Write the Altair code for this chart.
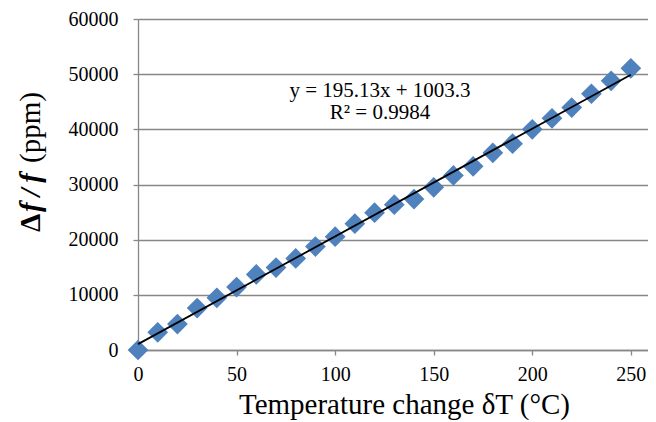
import altair as alt
import pandas as pd

temp_change = [0, 10, 20, 30, 40, 50, 60, 70, 80, 90, 100, 110, 120, 130,
               140, 150, 160, 170, 180, 190, 200, 210, 220, 230, 240, 250]
df_f_ppm = [0, 3200, 4700, 7600, 9450, 11400, 13700, 14950, 16600, 18750,
            20550, 22900, 24900, 26350, 27350, 29500, 31650, 33300, 35750,
            37400, 40000, 42000, 43950, 46450, 48800, 51070]
x_ticks = [0, 50, 100, 150, 200, 250]
y_ticks = [0, 10000, 20000, 30000, 40000, 50000, 60000]
eq_line1 = "y = 195.13x + 1003.3"
eq_line2 = "R\u00b2 = 0.9984"
x_title = "Temperature change \u03b4T (\u00b0C)"
y_title_parts = ["\u0394", "f\u2009/\u2009f", "(ppm)"]

FONT = "Liberation Serif"
GRAY = "#878787"
BLUE = "#4F81BD"

data = pd.DataFrame({"T": temp_change, "D": df_f_ppm})
one = pd.DataFrame({"k": [0]})

xenc = alt.X("T:Q", scale=alt.Scale(domain=[0, 258.7], nice=False),
             axis=alt.Axis(values=x_ticks, grid=False, title=x_title,
                           titleFont=FONT, titleFontSize=29, titleFontWeight="normal",
                           titleColor="black", titleX=266, titleY=63.6,
                           titleBaseline="alphabetic", titleAlign="center",
                           labelFont=FONT, labelFontSize=20, labelColor="black",
                           labelFlush=False, labelOverlap=False,
                           labelPadding=9, tickSize=5, tickColor=GRAY,
                           domainColor=GRAY, domainWidth=1.3, tickWidth=1.3))
yenc = alt.Y("D:Q", scale=alt.Scale(domain=[0, 60000], nice=False),
             axis=alt.Axis(values=y_ticks, grid=True, gridColor=GRAY, gridWidth=1.3,
                           gridOpacity=1, title=None, format="d",
                           labelFont=FONT, labelFontSize=20, labelColor="black",
                           labelFlush=False, labelOverlap=False,
                           labelPadding=15, tickSize=5, tickColor=GRAY,
                           domainColor=GRAY, domainWidth=1.3, tickWidth=1.3))

points = alt.Chart(data).mark_point(shape="diamond", filled=True, size=430,
                                    color=BLUE, opacity=1, strokeWidth=0).encode(x=xenc, y=yenc)

trend = alt.Chart(data).transform_regression(
    "T", "D", method="linear", extent=[0, 250]
).mark_line(color="black", strokeWidth=1.8).encode(x="T:Q", y="D:Q")

def label(text, xv, yv, **kw):
    return alt.Chart(one).mark_text(text=text, font=FONT, color="black", **kw).encode(
        x=alt.value(xv), y=alt.value(yv))

eq1 = label(eq_line1, 242, 77.7, fontSize=21, align="center", baseline="alphabetic")
eq2 = label(eq_line2, 242, 100.3, fontSize=21, align="center", baseline="alphabetic")

yt1 = label(y_title_parts[0], -98, 213, fontSize=29, fontWeight="bold", angle=270,
            align="left", baseline="alphabetic")
yt2 = label(y_title_parts[1], -98, 193, fontSize=29, fontWeight="bold", fontStyle="italic",
            angle=270, align="left", baseline="alphabetic")
yt3 = label(y_title_parts[2], -98, 144, fontSize=29, angle=270,
            align="left", baseline="alphabetic")

chart = alt.layer(points, trend, eq1, eq2, yt1, yt2, yt3).properties(
    width=510, height=331,
    autosize=alt.AutoSizeParams(type="none"),
    padding={"left": 130, "top": 11, "right": 0, "bottom": 72},
).configure_view(stroke=None).configure(background="white")

chart.save("out.html", embed_options={"renderer": "svg", "actions": False})
